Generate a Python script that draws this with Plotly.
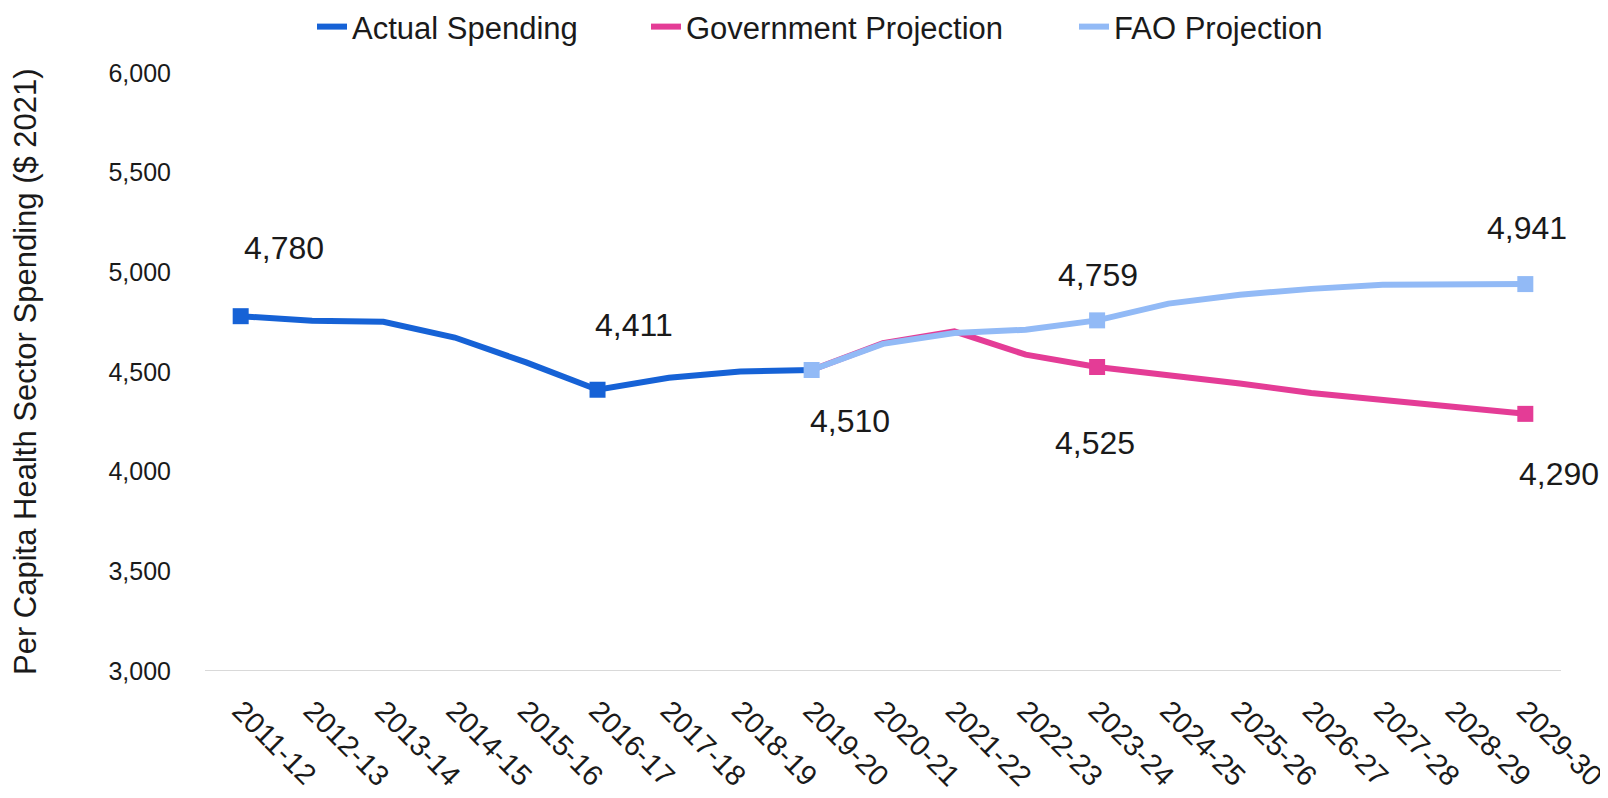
import plotly.graph_objects as go

categories = ["2011-12", "2012-13", "2013-14", "2014-15", "2015-16", "2016-17", "2017-18",
              "2018-19", "2019-20", "2020-21", "2021-22", "2022-23", "2023-24", "2024-25",
              "2025-26", "2026-27", "2027-28", "2028-29", "2029-30"]

actual_cats = categories[:9]
actual_vals = [4780, 4757, 4752, 4673, 4548, 4411, 4471, 4503, 4510]

proj_cats = categories[8:]
gov_vals = [4510, 4645, 4704, 4587, 4525, 4487, 4442, 4395, 4361, 4327, 4290]
fao_vals = [4510, 4641, 4696, 4712, 4759, 4843, 4888, 4917, 4938, 4941, 4941]

actual_marked = ["2011-12", "2016-17"]
gov_marked = ["2023-24", "2029-30"]
fao_marked = ["2019-20", "2023-24", "2029-30"]

# data labels: (category, value, offset of label centre from point in px: dx right, dy down)
labels = [
    ("2011-12", 4780, (43, -68)),
    ("2016-17", 4411, (36, -65)),
    ("2019-20", 4510, (38, 51)),
    ("2023-24", 4759, (1, -45)),
    ("2023-24", 4525, (-2, 76)),
    ("2029-30", 4941, (2, -56)),
    ("2029-30", 4290, (34, 60)),
]

y_title = "Per Capita Health Sector Spending ($ 2021)"

C_ACT = "#1662D6"
C_GOV = "#E43C96"
C_FAO = "#92BAF6"
TXT = "#1a1a1a"
FONT = "Liberation Sans, Arial, sans-serif"

# the page body adds an 8px offset, so the figure is 8px smaller than the window
W, H = 1600, 790
L, T, B = 197, 65, 127
PW = 1356
R = W - L - PW

series = [
    ("Actual Spending", actual_cats, actual_vals, actual_marked, C_ACT, 289),
    ("Government Projection", proj_cats, gov_vals, gov_marked, C_GOV, 383),
    ("FAO Projection", proj_cats, fao_vals, fao_marked, C_FAO, 215),
]

fig = go.Figure()
for name, cats, vals, marked, color, lw in series:
    fig.add_trace(go.Scatter(
        x=cats, y=vals, name=name, mode="lines",
        line=dict(color=color, width=6), legendwidth=lw,
    ))
    mx = [c for c in cats if c in marked]
    my = [v for c, v in zip(cats, vals) if c in marked]
    fig.add_trace(go.Scatter(
        x=mx, y=my, name=name, mode="markers", showlegend=False,
        marker=dict(symbol="square", size=16, color=color),
    ))

for cat, val, (dx, dy) in labels:
    fig.add_annotation(x=cat, y=val, xref="x", yref="y", text=f"{val:,}",
                       showarrow=False, xshift=dx, yshift=-dy,
                       font=dict(family=FONT, size=32, color=TXT))

fig.add_annotation(text=y_title, textangle=-90, showarrow=False,
                   xref="paper", yref="paper", x=(17 - L) / PW, y=0.5,
                   xanchor="center", yanchor="middle",
                   font=dict(family=FONT, size=31, color=TXT))

fig.update_layout(
    width=W, height=H,
    margin=dict(l=L, r=R, t=T, b=B, autoexpand=False),
    paper_bgcolor="white", plot_bgcolor="white",
    font=dict(family=FONT, color=TXT),
    showlegend=True,
    legend=dict(orientation="h", xref="container", yref="container",
                x=304 / W, xanchor="left", y=0.976, yanchor="middle",
                font=dict(family=FONT, size=31, color=TXT)),
    xaxis=dict(
        type="category", categoryorder="array", categoryarray=categories,
        range=[-0.5, len(categories) - 0.5], automargin=False,
        showgrid=False, showline=False, zeroline=False,
        tickangle=45, tickfont=dict(family=FONT, size=29, color=TXT),
        ticks="", ticklabelstandoff=16,
    ),
    yaxis=dict(
        range=[3000, 6000], dtick=500, tickformat=",", automargin=False,
        showgrid=False, showline=False, zeroline=False,
        tickfont=dict(family=FONT, size=25, color=TXT),
        ticks="", ticklabelstandoff=33,
    ),
    shapes=[dict(type="line", xref="paper", yref="y", x0=0, x1=1, y0=3000, y1=3000,
                 line=dict(color="#D9D9D9", width=2), layer="below")],
)

fig.write_html("out.html")
